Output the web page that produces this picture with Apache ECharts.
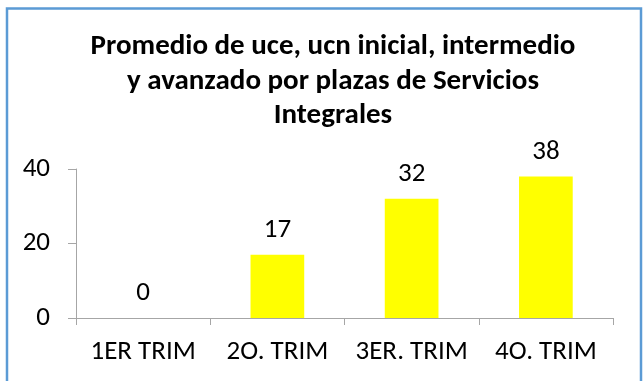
<!DOCTYPE html>
<html>
<head>
<meta charset="utf-8">
<script src="https://cdn.jsdelivr.net/npm/echarts@6/dist/echarts.min.js"></script>
<style>
  html, body { margin: 0; padding: 0; background: #fff; }
  #chart { width: 643px; height: 381px; }
</style>
</head>
<body>
<div id="chart"></div>
<script>
// Quarterly averages per plaza
const categories = ['1ER TRIM', '2O. TRIM', '3ER. TRIM', '4O. TRIM'];
const values = [0, 17, 32, 38];
const yTicks = [0, 20, 40];

const titleText = 'Promedio de uce, ucn inicial, intermedio\ny avanzado por plazas de Servicios\nIntegrales';
const font = 'Calibri, Carlito, "Open Sans", "Noto Sans", sans-serif';

const chart = echarts.init(document.getElementById('chart'), null, { renderer: 'canvas' });
chart.setOption({
  animation: false,
  backgroundColor: '#ffffff',
  title: {
    text: titleText,
    left: 333,
    top: 30,
    padding: 0,
    textAlign: 'center',
    textStyle: {
      fontFamily: font,
      fontWeight: 'bold',
      fontSize: 29,
      lineHeight: 34.3,
      color: '#000'
    }
  },
  graphic: [{
    type: 'rect',
    shape: { x: 7, y: 8.5, width: 634, height: 380 },
    style: { fill: 'none', stroke: '#5b9bd5', lineWidth: 2.5 },
    silent: true
  }],
  grid: { left: 76, right: 30, top: 169, bottom: 63 },
  xAxis: {
    type: 'category',
    data: categories,
    axisLine: { lineStyle: { color: '#a6a6a6', width: 1 } },
    axisTick: { show: true, interval: 0, length: 7, lineStyle: { color: '#a6a6a6' } },
    axisLabel: { interval: 0, fontFamily: font, fontSize: 27, color: '#000', margin: 21 }
  },
  yAxis: {
    type: 'value',
    min: yTicks[0],
    max: yTicks[yTicks.length - 1],
    interval: yTicks[1] - yTicks[0],
    axisLine: { show: true, lineStyle: { color: '#a6a6a6', width: 1 } },
    axisTick: { show: true, length: 8, lineStyle: { color: '#a6a6a6' } },
    splitLine: { show: false },
    axisLabel: { fontFamily: font, fontSize: 27, color: '#000', margin: 26 }
  },
  series: [{
    type: 'bar',
    data: values,
    barWidth: '40%',
    itemStyle: { color: '#ffff00' },
    label: {
      show: true,
      position: 'top',
      distance: 11,
      fontFamily: font,
      fontSize: 27,
      color: '#000'
    }
  }]
});
</script>
</body>
</html>
